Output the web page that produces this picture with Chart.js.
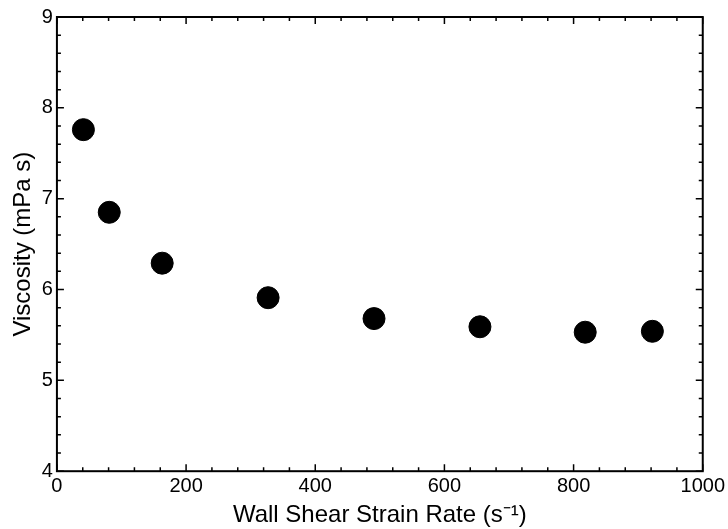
<!DOCTYPE html>
<html>
<head>
<meta charset="utf-8">
<script src="https://cdn.jsdelivr.net/npm/chart.js@4.4.1/dist/chart.umd.min.js"></script>
<style>
  html, body { margin: 0; padding: 0; background: #fff; }
  #wrap { width: 728px; height: 529px; }
</style>
</head>
<body>
<div id="wrap"><canvas id="c" width="728" height="529"></canvas></div>
<script>
// shear rate (1/s) and measured viscosity (mPa s)
const shearRate = [41, 81, 163, 327, 491, 655, 818, 922];
const viscosity = [7.76, 6.85, 6.29, 5.91, 5.68, 5.59, 5.53, 5.54];

const xTicks = [0, 200, 400, 600, 800, 1000];
const yTicks = [4, 5, 6, 7, 8, 9];

const FONT = 'Liberation Sans, Arial, Helvetica, sans-serif';

// inward ticks on all four sides + box, like the matlab style plot
const frameTicks = {
  id: 'frameTicks',
  afterDraw(chart) {
    const ctx = chart.ctx, a = chart.chartArea;
    const xs = chart.scales.x, ys = chart.scales.y;
    ctx.save();
    ctx.strokeStyle = '#000';
    ctx.lineWidth = 1.5;
    for (let v = 0; v <= 1000; v += 40) {
      const px = xs.getPixelForValue(v);
      const len = (v % 200 === 0) ? 7 : 4;
      ctx.beginPath();
      ctx.moveTo(px, a.bottom); ctx.lineTo(px, a.bottom - len);
      ctx.moveTo(px, a.top); ctx.lineTo(px, a.top + len);
      ctx.stroke();
    }
    for (let i = 0; i <= 25; i++) {
      const v = 4 + i * 0.2;
      const py = ys.getPixelForValue(v);
      const len = (i % 5 === 0) ? 7 : 4;
      ctx.beginPath();
      ctx.moveTo(a.left, py); ctx.lineTo(a.left + len, py);
      ctx.moveTo(a.right, py); ctx.lineTo(a.right - len, py);
      ctx.stroke();
    }
    ctx.lineWidth = 2;
    ctx.strokeRect(a.left, a.top, a.right - a.left, a.bottom - a.top);
    ctx.restore();
  }
};

new Chart(document.getElementById('c'), {
  type: 'scatter',
  data: {
    datasets: [{
      data: shearRate.map((x, i) => ({ x: x, y: viscosity[i] })),
      backgroundColor: '#000',
      borderColor: '#000',
      pointRadius: 11,
      pointHoverRadius: 11
    }]
  },
  options: {
    responsive: false,
    animation: false,
    layout: { padding: { left: 9, right: 23, top: 17, bottom: -1 } },
    plugins: { legend: { display: false }, tooltip: { enabled: false } },
    scales: {
      x: {
        type: 'linear', min: 0, max: 1000,
        afterBuildTicks: s => { s.ticks = xTicks.map(v => ({ value: v })); },
        grid: { display: false, drawTicks: false },
        border: { display: false },
        ticks: { color: '#000', padding: 3, maxRotation: 0, font: { family: FONT, size: 20 },
                 callback: v => String(v) },
        title: { display: true, text: 'Wall Shear Strain Rate (s\u207B\u00B9)', color: '#000',
                 padding: { top: 0, bottom: 0 }, font: { family: FONT, size: 24 } }
      },
      y: {
        type: 'linear', min: 4, max: 9,
        afterBuildTicks: s => { s.ticks = yTicks.map(v => ({ value: v })); },
        grid: { display: false, drawTicks: false },
        border: { display: false },
        ticks: { color: '#000', padding: 4, font: { family: FONT, size: 20 },
                 callback: v => String(v) },
        title: { display: true, text: 'Viscosity (mPa s)', color: '#000',
                 padding: { top: 0, bottom: 0 }, font: { family: FONT, size: 24 } }
      }
    }
  },
  plugins: [frameTicks]
});
</script>
</body>
</html>
